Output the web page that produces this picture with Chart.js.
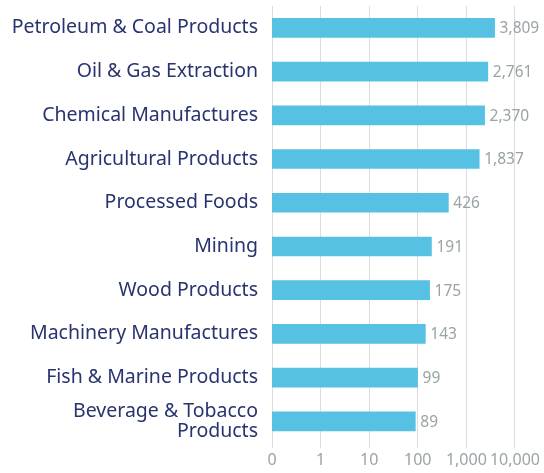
<!DOCTYPE html>
<html>
<head>
<meta charset="utf-8">
<script src="https://cdn.jsdelivr.net/npm/chart.js@4"></script>
<style>
  html, body { margin: 0; padding: 0; background: #fff; }
  #wrap { width: 544px; height: 473px; position: relative; }
</style>
</head>
<body>
<div id="wrap"><canvas id="chart"></canvas></div>
<script>
  // Industry categories (top to bottom)
  const categories = [
    'Petroleum & Coal Products',
    'Oil & Gas Extraction',
    'Chemical Manufactures',
    'Agricultural Products',
    'Processed Foods',
    'Mining',
    'Wood Products',
    'Machinery Manufactures',
    'Fish & Marine Products',
    ['Beverage & Tobacco', 'Products']
  ];
  const values = [3809, 2761, 2370, 1837, 426, 191, 175, 143, 99, 89];
  // Log axis ticks; the lowest one is shown as "0"
  const tickValues = [0.1, 1, 10, 100, 1000, 10000];

  const fontFamily = '"Noto Sans", "Open Sans", sans-serif';

  // Draw the value next to the end of each bar
  const valueLabels = {
    id: 'valueLabels',
    afterDatasetsDraw(chart) {
      const ctx = chart.ctx;
      const meta = chart.getDatasetMeta(0);
      ctx.save();
      ctx.font = '15.5px ' + fontFamily;
      ctx.fillStyle = '#99a3a6';
      ctx.textAlign = 'left';
      ctx.textBaseline = 'middle';
      meta.data.forEach((bar, i) => {
        ctx.fillText(values[i].toLocaleString('en-US'), bar.x + 5, bar.y + 1);
      });
      ctx.restore();
    }
  };

  new Chart(document.getElementById('chart').getContext('2d'), {
    type: 'bar',
    data: {
      labels: categories,
      datasets: [{
        data: values,
        backgroundColor: '#56c1e3',
        barThickness: 19
      }]
    },
    options: {
      indexAxis: 'y',
      responsive: true,
      maintainAspectRatio: false,
      animation: false,
      layout: { padding: { top: 6, right: 0, bottom: 0, left: 0 } },
      plugins: {
        legend: { display: false },
        tooltip: { enabled: false }
      },
      scales: {
        x: {
          type: 'logarithmic',
          min: 0.1,
          max: 10000,
          afterBuildTicks(scale) {
            scale.ticks = tickValues.map(v => ({ value: v }));
          },
          ticks: {
            color: '#9aa3a6',
            font: { family: fontFamily, size: 16, lineHeight: 1.05 },
            padding: 4,
            autoSkip: false,
            maxRotation: 0,
            callback: v => v < 1 ? '0' : Number(v).toLocaleString('en-US')
          },
          grid: { color: '#dcdcdc', lineWidth: 1, tickLength: 5 },
          border: { display: false }
        },
        y: {
          afterFit(scale) {
            scale.width = 272;
            scale.paddingTop = 0;
            scale.paddingBottom = 0;
          },
          ticks: {
            color: '#283370',
            font: { family: fontFamily, size: 19.5, lineHeight: 1.05 },
            padding: 6,
            autoSkip: false
          },
          grid: { display: false },
          border: { display: false }
        }
      }
    },
    plugins: [valueLabels]
  });
</script>
</body>
</html>
